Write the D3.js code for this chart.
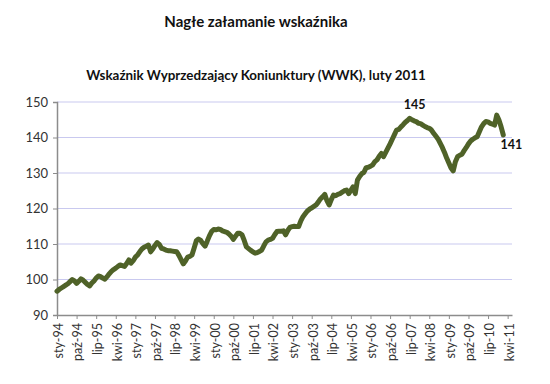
<!DOCTYPE html>
<html><head><meta charset="utf-8">
<script src="https://cdn.jsdelivr.net/npm/d3@7"></script>
<style>body{margin:0;background:#fff}svg{display:block}</style>
</head><body>
<svg id="c" width="550" height="384"></svg>
<script>
const title = "Nagłe załamanie wskaźnika";
const subtitle = "Wskaźnik Wyprzedzający Koniunktury (WWK), luty 2011";
const values = [
 96.7, 97.2, 97.6, 98.0, 98.4, 98.8, 99.4, 100.0, 99.6, 98.9, 99.5, 100.2,
 99.8, 99.2, 98.6, 98.2, 99.0, 99.6, 100.4, 101.0, 100.8, 100.4, 100.1, 100.8,
 101.6, 102.3, 102.8, 103.2, 103.7, 104.1, 103.9, 103.7, 104.5, 105.5, 104.6, 105.3,
 106.3, 106.9, 107.8, 108.6, 109.1, 109.4, 109.7, 107.8, 108.6, 109.6, 110.4, 109.9,
 108.8, 108.6, 108.3, 108.1, 108.1, 108.0, 107.9, 107.8, 106.8, 105.6, 104.4, 105.2,
 106.3, 106.5, 106.9, 108.9, 110.9, 111.4, 111.0, 110.1, 109.4, 110.8, 112.3, 113.5,
 114.1, 114.0, 114.2, 114.1, 113.7, 113.5, 113.3, 112.8, 112.2, 111.3, 112.2, 113.0,
 113.0, 112.6, 111.0, 109.2, 108.7, 108.2, 107.8, 107.4, 107.6, 107.9, 108.3, 109.5,
 110.6, 111.1, 111.3, 111.6, 112.6, 113.5, 113.6, 113.6, 113.7, 112.6, 113.8, 114.7,
 114.9, 115.0, 114.9, 114.9, 116.5, 117.7, 118.5, 119.3, 119.8, 120.2, 120.6, 121.0,
 121.8, 122.7, 123.3, 124.0, 122.2, 121.0, 122.5, 123.8, 123.6, 124.0, 124.2, 124.6,
 125.0, 125.2, 124.2, 125.1, 126.1, 124.2, 128.0, 129.0, 129.8, 130.2, 131.5, 131.6,
 131.9, 132.3, 133.2, 133.7, 134.7, 135.5, 134.6, 135.8, 137.0, 138.2, 139.5, 140.8,
 142.1, 142.3, 143.0, 143.6, 144.3, 144.8, 145.4, 145.0, 144.7, 144.5, 144.0, 143.9,
 143.5, 143.1, 142.8, 142.6, 142.1, 141.2, 140.4, 139.6, 138.4, 137.2, 135.8, 134.2,
 132.8, 131.4, 130.6, 133.2, 134.6, 135.0, 135.3, 136.3, 137.2, 138.2, 139.0, 139.5,
 139.9, 140.2, 141.6, 143.0, 143.9, 144.5, 144.4, 144.0, 143.8, 143.5, 146.3, 144.9,
 143.0, 140.7
];
const yTicks = [90, 100, 110, 120, 130, 140, 150];
const xTickLabels = ["sty-94","paź-94","lip-95","kwi-96","sty-97","paź-97","lip-98","kwi-99","sty-00","paź-00","lip-01","kwi-02","sty-03","paź-03","lip-04","kwi-05","sty-06","paź-06","lip-07","kwi-08","sty-09","paź-09","lip-10","kwi-11"];
const annotations = [{label:"145", index:162, dx:5, dy:-9}, {label:"141", index:205, dx:8, dy:14}];

const font = "Lato, 'Open Sans', sans-serif";
const svg = d3.select("#c");
const mLeft = 57, mRight = 512, mTop = 102, mBottom = 315;
const x = d3.scaleLinear().domain([0, 209]).range([mLeft, mRight]);
const y = d3.scaleLinear().domain([90, 150]).range([mBottom, mTop]);

svg.append("text").attr("x", 256).attr("y", 27).attr("text-anchor","middle")
  .attr("font-family", font).attr("font-weight","bold").attr("font-size", 15).attr("fill","#111").text(title);
svg.append("text").attr("x", 256).attr("y", 80).attr("text-anchor","middle")
  .attr("font-family", font).attr("font-weight","bold").attr("font-size", 13.4).attr("fill","#111").text(subtitle);

// gridlines
svg.append("g").selectAll("line").data(yTicks.filter(t=>t>90)).join("line")
  .attr("x1", mLeft).attr("x2", mRight).attr("y1", d=>y(d)).attr("y2", d=>y(d))
  .attr("stroke", "#c9c9ef").attr("stroke-width", 1.2);

// y axis
const ya = svg.append("g").attr("transform", `translate(${mLeft},0)`)
  .call(d3.axisLeft(y).tickValues(yTicks).tickSize(4).tickPadding(5));
ya.select(".domain").attr("stroke","#8c8c8c").attr("stroke-width",1.5);
ya.selectAll(".tick line").attr("stroke","#8c8c8c");
ya.selectAll("text").attr("font-family", font).attr("font-size", 13).attr("fill","#333");

// x axis
const tickIdx = xTickLabels.map((_, k) => k * 9);
const xa = svg.append("g").attr("transform", `translate(0,${mBottom})`)
  .call(d3.axisBottom(x).tickValues(tickIdx).tickFormat((d,k)=>xTickLabels[k]).tickSize(4).tickSizeOuter(0));
xa.select(".domain").attr("stroke","#8c8c8c").attr("stroke-width",1.5);
xa.selectAll(".tick line").attr("stroke","#8c8c8c");
xa.selectAll("text").attr("font-family", font).attr("font-size", 12.5).attr("fill","#333")
  .attr("text-anchor","end").attr("transform","rotate(-90)").attr("x",-8).attr("y",1).attr("dy","0.35em");

// line
const line = d3.line().x((d,i)=>x(i)).y(d=>y(d)).curve(d3.curveLinear);
svg.append("path").datum(values).attr("d", line).attr("fill","none")
  .attr("stroke","#4f6228").attr("stroke-width",5).attr("stroke-linejoin","round").attr("stroke-linecap","round");

// labels
svg.append("g").selectAll("text").data(annotations).join("text")
  .attr("x", d=>x(d.index)+d.dx).attr("y", d=>y(values[d.index])+d.dy).attr("text-anchor","middle")
  .attr("font-family", font).attr("font-weight","bold").attr("font-size", 12.5).attr("fill","#111").text(d=>d.label);
</script>
</body></html>
